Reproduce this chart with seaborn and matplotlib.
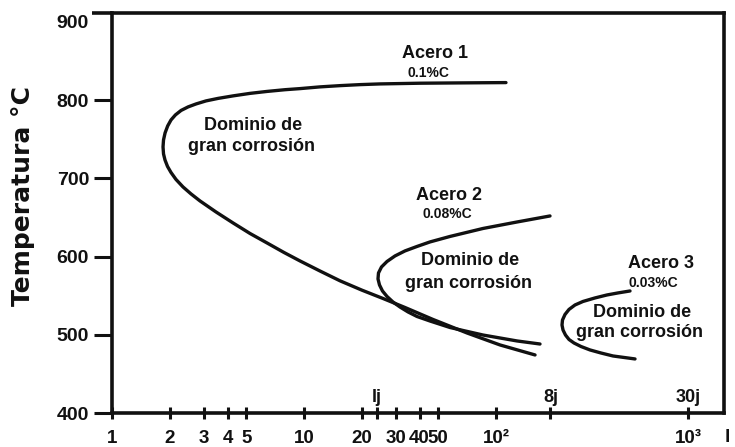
import matplotlib
matplotlib.use("Agg")
import matplotlib.pyplot as plt
import pandas as pd
import seaborn as sns

# Sensitisation curves: exposure time (h) against temperature (°C),
# each traced from the upper branch end, round the nose, to the lower branch end
acero1_t = [112.7, 64.9, 40.2, 24.9, 19.6, 15.4, 12.1, 9.53, 7.96, 6.42, 5.23,
            4.27, 3.57, 3.09, 2.74, 2.49, 2.29, 2.14, 2.03, 1.95, 1.89, 1.855,
            1.844,
            1.855, 1.888, 1.946, 2.029, 2.154, 2.343, 2.579, 2.873, 3.481,
            4.268, 5.233, 6.417, 7.868, 9.532, 12.12, 15.40, 20.05, 25.79,
            33.57, 46.97, 70.63, 104.9, 159.7]
acero1_T = [822.4, 822.0, 821.6, 820.7, 819.8, 818.5, 816.9, 814.7, 813.3,
            811.1, 808.6, 805.4, 802.2, 799.0, 795.1, 791.3, 786.8, 781.1,
            774.7, 767.0, 758.1, 749.1, 740.2,
            731.2, 723.5, 715.2, 707.5, 698.6, 689.0, 680.1, 671.1, 657.0,
            643.0, 629.5, 617.4, 605.2, 594.4, 581.5, 569.0, 557.0, 546.4,
            534.9, 519.6, 502.3, 487.0, 474.2]

acero2_t = [191.1, 128.7, 85.55, 57.61, 45.32, 38.77, 33.57, 29.79, 27.06,
            25.33, 24.43, 24.29, 24.73, 25.63, 27.06, 29.07, 31.62, 34.81,
            38.77, 45.32, 57.61, 85.55, 128.7, 169.5]
acero2_T = [651.9, 644.2, 635.9, 625.7, 618.7, 612.9, 607.2, 600.8, 593.7,
            586.7, 579.0, 571.4, 563.7, 556.0, 549.0, 541.9, 535.5, 529.2,
            523.4, 517.6, 509.3, 499.7, 492.1, 488.2]

acero3_t = [498.8, 432.0, 378.5, 327.9, 283.9, 257.9, 240.0, 228.8, 222.0,
            220.7, 223.4, 230.1, 240.0, 254.8, 277.2, 308.8, 352.3, 406.9,
            529.7]
acero3_T = [556.0, 553.5, 550.9, 547.1, 542.6, 538.1, 532.4, 526.0, 518.9,
            512.5, 506.1, 499.7, 494.0, 489.5, 485.0, 480.6, 476.7, 472.9,
            469.1]

# Axis ticks
x_ticks = [1, 2, 3, 4, 5, 10, 20, 30, 40, 50, 100, 1000]
x_tick_labels = ["1", "2", "3", "4", "5", "10", "20", "30", "40", "50", "10²", "10³"]
day_ticks = [24, 192]
day_marks = [24, 192, 1000]
day_labels = ["lj", "8j", "30j"]
y_ticks = [400, 500, 600, 700, 800, 900]

# Curve annotations (name, carbon content, region label) with their anchor points
steel_names = ["Acero 1", "Acero 2", "Acero 3"]
name_pos = [(48.1, 854), (56.9, 672), (723, 585)]
carbon_labels = ["0.1%C", "0.08%C", "0.03%C"]
carbon_pos = [(44.3, 830), (55.6, 649), (657, 561)]
region_line1 = "Dominio de"
region_line2 = "gran corrosión"
region1_pos = [(5.43, 762), (73.2, 589), (576, 523)]
region2_pos = [(5.36, 735), (72.3, 560), (562, 497)]

sns.set_style("ticks")
plt.rcParams["font.family"] = ["Liberation Sans", "DejaVu Sans"]
plt.rcParams["font.weight"] = "bold"

W, H = 735, 447
fig = plt.figure(figsize=(W / 100, H / 100), dpi=100)
ax = fig.add_axes([112 / W, 1 - 413 / H, (724 - 112) / W, (413 - 12.5) / H])

ink = "#111111"
for t, T in [(acero1_t, acero1_T), (acero2_t, acero2_T), (acero3_t, acero3_T)]:
    df = pd.DataFrame({"t": t, "T": T})
    sns.lineplot(data=df, x="t", y="T", sort=False, estimator=None,
                 color=ink, lw=2.4, solid_joinstyle="round",
                 solid_capstyle="round", ax=ax)

ax.set_xscale("log")
ax.set_xlim(1, 10 ** (612 / 192))
ax.set_ylim(400, 912)
ax.set_xlabel("")
ax.set_ylabel("")

ax.set_xticks(x_ticks)
ax.set_xticklabels(x_tick_labels)
ax.set_xticks(day_ticks, minor=True)
ax.set_xticklabels(["", ""], minor=True)
ax.set_yticks(y_ticks)
ax.set_yticklabels([str(v) for v in y_ticks])

ax.tick_params(axis="x", which="both", direction="inout", length=8.6,
               width=2.2, color=ink, pad=8, labelsize=13.5, labelcolor=ink)
ax.tick_params(axis="y", direction="out", length=13, width=2.2, color=ink,
               pad=3.5, labelsize=14, labelcolor=ink)
for lab in ax.get_xticklabels() + ax.get_yticklabels():
    lab.set_fontweight("bold")
ax.yaxis.get_major_ticks()[-1].tick1line.set_visible(False)

for side in ["left", "right", "top", "bottom"]:
    ax.spines[side].set_linewidth(2.6)
    ax.spines[side].set_color(ink)
# top frame line runs out past the temperature axis
ax.plot([-20 / 612, 0], [1, 1], transform=ax.transAxes, color=ink,
        lw=2.6, clip_on=False, solid_capstyle="butt")

# day markers above the time axis
xt = ax.get_xaxis_transform()
for x, lab in zip(day_marks, day_labels):
    ax.text(x, 11 / 400.5, lab, transform=xt, ha="center", va="baseline",
            fontsize=13, fontweight="bold", color=ink)

for name, (x, y) in zip(steel_names, name_pos):
    ax.text(x, y, name, ha="center", va="baseline", fontsize=13,
            fontweight="bold", color=ink)
for lab, (x, y) in zip(carbon_labels, carbon_pos):
    ax.text(x, y, lab, ha="center", va="baseline", fontsize=10,
            fontweight="bold", color=ink)
for (x1, y1), (x2, y2) in zip(region1_pos, region2_pos):
    ax.text(x1, y1, region_line1, ha="center", va="baseline", fontsize=13,
            fontweight="bold", color=ink)
    ax.text(x2, y2, region_line2, ha="center", va="baseline", fontsize=13,
            fontweight="bold", color=ink)

fig.text(23 / W, 1 - 196 / H, "Temperatura °C", rotation=90, ha="center",
         va="center", fontsize=18, fontweight="bold", color=ink,
         family=["DejaVu Sans"])
fig.text(727 / W, 1 - 442 / H, "l", ha="center", va="baseline", fontsize=14,
         fontweight="bold", color=ink)

fig.savefig("out.png", dpi=100)
